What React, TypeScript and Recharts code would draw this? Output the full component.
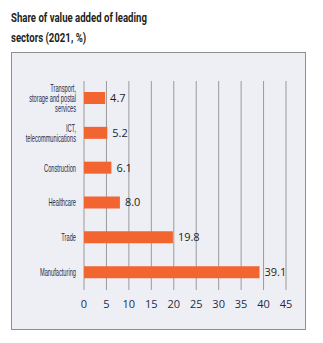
import { Bar, BarChart, CartesianGrid, LabelList, XAxis, YAxis } from "recharts";

const sectors = [
  "Transport,|storage and postal|services",
  "ICT,|telecommunications",
  "Construction",
  "Healthcare",
  "Trade",
  "Manufacturing",
];
const shares = [4.7, 5.2, 6.1, 8.0, 19.8, 39.1];
const xTicks = [0, 5, 10, 15, 20, 25, 30, 35, 40, 45];

const data = sectors.map((name, i) => ({ name, value: shares[i] }));

// the original uses a condensed face; squeeze the sans horizontally instead
function SectorTick({ x, y, payload }: any) {
  const lines = String(payload.value).split("|");
  const lh = 10;
  const start = -((lines.length - 1) * lh) / 2;
  return (
    <g transform={`translate(${x},${y}) scale(0.57,1)`}>
      <text x={0} y={0} textAnchor="end" fontSize={10} fontFamily="'Liberation Sans', Arial, sans-serif" fill="#1f2a48">
        {lines.map((l, i) => (
          <tspan key={i} x={0} dy={i === 0 ? start + 3.5 : lh}>
            {l}
          </tspan>
        ))}
      </text>
    </g>
  );
}

export default function App() {
  return (
    <div style={{ position: "relative", width: 307, height: 327 }}>
      <div
        style={{
          position: "absolute",
          left: 3,
          top: 0,
          fontFamily: "Roboto, sans-serif",
          fontWeight: 700,
          fontSize: 12,
          lineHeight: "20px",
          color: "#231f20",
          whiteSpace: "nowrap",
          transform: "scaleX(0.8)",
          transformOrigin: "left top",
        }}
      >
        Share of value added of leading
        <br />
        sectors (2021, %)
      </div>
      <div
        style={{
          position: "absolute",
          left: 3,
          top: 44,
          width: 293,
          height: 276,
          border: "1px solid #8f8f8f",
          background: "#eeeff5",
        }}
      >
        <BarChart
          width={293}
          height={276}
          layout="vertical"
          data={data}
          margin={{ top: 28, right: 19, bottom: 9, left: 0 }}
          style={{ overflow: "visible" }}
        >
          <CartesianGrid horizontal={false} stroke="#9a9a9a" strokeWidth={1} />
          <XAxis
            type="number"
            domain={[0, 45]}
            ticks={xTicks}
            axisLine={false}
            tickLine={false}
            height={30}
            tick={{ fontSize: 11, fill: "#1f2a48", fontFamily: "'Open Sans', sans-serif" }}
            tickMargin={4}
          />
          <YAxis
            type="category"
            dataKey="name"
            width={72}
            axisLine={false}
            tickLine={false}
            tick={<SectorTick />}
            tickMargin={2}
            interval={0}
          />
          <Bar dataKey="value" fill="#f26430" barSize={12} isAnimationActive={false}>
            <LabelList
              dataKey="value"
              position="right"
              offset={5}
              formatter={(v: any) => Number(v).toFixed(1)}
              style={{ fontSize: 11, fill: "#231f20", fontFamily: "'Open Sans', sans-serif" }}
            />
          </Bar>
        </BarChart>
      </div>
    </div>
  );
}
